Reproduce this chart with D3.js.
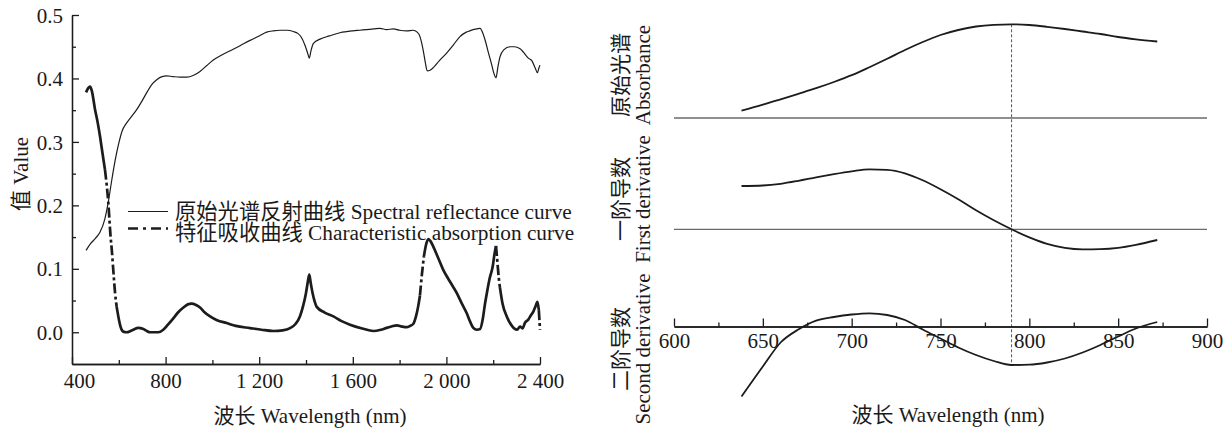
<!DOCTYPE html>
<html><head><meta charset="utf-8">
<script src="https://cdn.jsdelivr.net/npm/d3@7"></script>
<style>
body{margin:0;background:#fff}
svg{display:block}
svg text{font-family:"Liberation Serif","Noto Sans CJK SC",serif !important;fill:#1a1a1a}
</style>
</head><body>
<svg id="c" width="1229" height="432"></svg>
<script>
// ---------- Left chart data ----------
const reflWl = [460,480,500,520,540,555,570,585,600,615,630,650,675,700,720,740,762,785,805,830,862,890,920,947,975,1004,1040,1089,1120,1161,1200,1232,1260,1289,1320,1346,1365,1380,1396,1407,1414,1421,1431,1460,1500,1545,1600,1630,1659,1690,1716,1745,1773,1800,1830,1858,1875,1887,1895,1903,1910,1918,1930,1944,1970,2001,2030,2058,2085,2100,2115,2130,2144,2155,2165,2180,2194,2203,2212,2220,2229,2245,2272,2290,2315,2330,2350,2365,2380,2389,2395,2400];
const reflVal = [0.129,0.140,0.148,0.158,0.178,0.205,0.240,0.272,0.298,0.318,0.328,0.338,0.350,0.365,0.378,0.390,0.398,0.403,0.404,0.403,0.402,0.402,0.405,0.411,0.420,0.429,0.437,0.446,0.452,0.460,0.467,0.473,0.475,0.476,0.476,0.474,0.471,0.465,0.452,0.440,0.432,0.443,0.455,0.462,0.467,0.472,0.475,0.476,0.477,0.478,0.479,0.477,0.478,0.476,0.475,0.476,0.473,0.466,0.455,0.440,0.425,0.412,0.413,0.417,0.428,0.440,0.453,0.466,0.473,0.475,0.477,0.478,0.479,0.472,0.461,0.440,0.421,0.408,0.401,0.418,0.434,0.445,0.450,0.450,0.447,0.441,0.432,0.428,0.416,0.409,0.416,0.421];

const absWl = [460,470,477,485,498,510,520,530,541,555,565,570,578,584,591,598,608,619,634,650,662,683,705,720,733,769,790,810,833,855,876,895,911,930,947,965,990,1020,1061,1100,1161,1210,1261,1300,1332,1355,1374,1388,1400,1408,1414,1420,1428,1436,1446,1480,1517,1550,1588,1640,1688,1720,1745,1765,1788,1810,1830,1845,1858,1870,1880,1887,1895,1904,1913,1923,1933,1944,1965,1987,2015,2044,2065,2087,2100,2115,2130,2144,2155,2165,2173,2185,2198,2205,2212,2218,2224,2229,2240,2258,2280,2301,2315,2325,2336,2350,2360,2372,2380,2389,2395,2400];
const absVal = [0.378,0.385,0.387,0.380,0.352,0.330,0.308,0.283,0.256,0.205,0.150,0.130,0.090,0.062,0.040,0.025,0.008,0.001,0.000,0.002,0.004,0.007,0.005,0.002,0.000,0.000,0.004,0.012,0.022,0.032,0.039,0.044,0.045,0.043,0.039,0.032,0.025,0.019,0.0145,0.010,0.0066,0.004,0.002,0.003,0.0066,0.013,0.025,0.042,0.062,0.080,0.091,0.078,0.062,0.050,0.040,0.031,0.025,0.018,0.012,0.006,0.002,0.004,0.007,0.009,0.011,0.009,0.008,0.010,0.013,0.025,0.042,0.058,0.090,0.120,0.138,0.147,0.143,0.135,0.117,0.098,0.080,0.062,0.046,0.030,0.018,0.007,0.004,0.005,0.020,0.045,0.062,0.085,0.104,0.122,0.136,0.110,0.085,0.070,0.045,0.025,0.010,0.004,0.009,0.006,0.015,0.020,0.026,0.033,0.040,0.048,0.035,0.004];

const xTicksL = [400,800,1200,1600,2000,2400];
const xMinorL = [600,1000,1400,1800,2200];
const yTicksL = [0,0.1,0.2,0.3,0.4,0.5];
const yMinorL = [0.05,0.15,0.25,0.35,0.45];
const legendLabels = ["原始光谱反射曲线 Spectral reflectance curve","特征吸收曲线 Characteristic absorption curve"];
const xTitle = "波长 Wavelength (nm)";
const yTitleL = "值 Value";

// ---------- Right chart data ----------
const derivWl = [638,650,660,670,680,690,700,710,720,730,740,750,760,770,780,790,800,810,820,830,840,850,860,872];
const absorbance = [0.073,0.133,0.187,0.242,0.298,0.360,0.428,0.508,0.592,0.680,0.760,0.830,0.880,0.915,0.932,0.937,0.930,0.912,0.890,0.865,0.840,0.810,0.787,0.765];
const firstDeriv = [0.433,0.438,0.455,0.485,0.520,0.552,0.580,0.600,0.595,0.560,0.490,0.400,0.300,0.190,0.090,0.000,-0.080,-0.145,-0.185,-0.200,-0.198,-0.185,-0.155,-0.107];
const secondDeriv = [-0.700,-0.400,-0.160,-0.030,0.058,0.095,0.120,0.132,0.115,0.065,-0.030,-0.120,-0.210,-0.285,-0.345,-0.385,-0.382,-0.360,-0.320,-0.260,-0.185,-0.100,-0.020,0.045];
const xTicksR = [600,650,700,750,800,850,900];
const xMinorR = [625,675,725,775,825,875];
const panelLabelsCn = ["原始光谱","一阶导数","二阶导数"];
const panelLabelsEn = ["Absorbance","First derivative","Second derivative"];
const markWl = 790;

// ---------- Drawing ----------
const svg = d3.select("#c");
const ink = "#1c1c1c";
const fs = 21;
const FF = '"Liberation Serif","Noto Sans CJK SC",serif';

const xL = d3.scaleLinear().domain([400,2400]).range([72,540]);
const yL = d3.scaleLinear().domain([-0.05,0.5]).range([364,15]);
const loc = d3.formatLocale({decimal:".",thousands:" ",grouping:[3],currency:["",""]});
const fmtX = loc.format(",");

// x axis left
const gxL = svg.append("g").attr("transform","translate(0,364)");
gxL.call(d3.axisBottom(xL).tickValues(xTicksL).tickSize(-7).tickSizeOuter(0).tickFormat(fmtX));
gxL.append("g").call(d3.axisBottom(xL).tickValues(xMinorL).tickSize(-4).tickSizeOuter(0).tickFormat(""));
gxL.selectAll("text").attr("y",24).attr("dy",null).style("font-size",fs+"px").attr("fill",ink)
   .attr("dx",(d)=> d===400 ? 7 : 0);

// y axis left
const gyL = svg.append("g").attr("transform","translate(72,0)");
gyL.call(d3.axisLeft(yL).tickValues(yTicksL).tickSize(-7).tickSizeOuter(0).tickFormat(d3.format(".1f")));
gyL.append("g").call(d3.axisLeft(yL).tickValues(yMinorL).tickSize(-4).tickSizeOuter(0).tickFormat(""));
gyL.selectAll("text").attr("x",-9).attr("dy","0.34em").style("font-size",fs+"px").attr("fill",ink);

svg.selectAll(".domain").attr("stroke",ink).attr("stroke-width",1.3);
svg.selectAll(".tick line").attr("stroke",ink).attr("stroke-width",1.3);

// thin reflectance curve
const lineRefl = d3.line().x((d,i)=>xL(reflWl[i])).y(d=>yL(d)).curve(d3.curveMonotoneX);
svg.append("path").datum(reflVal).attr("d",lineRefl).attr("fill","none").attr("stroke",ink).attr("stroke-width",1.2);

// thick absorption curve: dash pattern visible on steep parts
const idx = absWl.map((d,i)=>i);
const runs = [];
let cur = null;
for (let i=0;i<idx.length-1;i++){
  const dx = xL(absWl[i+1])-xL(absWl[i]);
  const dy = yL(absVal[i+1])-yL(absVal[i]);
  const steep = Math.abs(dy) > 8*Math.abs(dx);
  if (!cur || cur.steep!==steep){ if(cur) runs.push(cur); cur={steep, ids:[i]}; }
  cur.ids.push(i+1);
}
runs.push(cur);
const lineAbs = d3.line().x(i=>xL(absWl[i])).y(i=>yL(absVal[i])).curve(d3.curveMonotoneX);
runs.forEach(r=>{
  svg.append("path").datum(r.ids).attr("d",lineAbs).attr("fill","none").attr("stroke",ink)
    .attr("stroke-width",2.7).attr("stroke-linejoin","round")
    .attr("stroke-dasharray", r.steep ? "10,3,3,3" : null);
});

// legend
const lg = svg.append("g");
lg.append("line").attr("x1",128).attr("x2",168).attr("y1",211.5).attr("y2",211.5).attr("stroke",ink).attr("stroke-width",1.2);
lg.append("line").attr("x1",128).attr("x2",168).attr("y1",228.5).attr("y2",228.5).attr("stroke",ink).attr("stroke-width",2.7).attr("stroke-dasharray","10,5,3,5");
lg.selectAll("text.lg").data(legendLabels).join("text").attr("class","lg")
  .attr("x",175).attr("y",(d,i)=>218.5+i*21).style("font-size","21.3px").text(d=>d);

// titles left
svg.append("text").attr("x",(xL(400)+xL(2400))/2+4).attr("y",422.5).attr("text-anchor","middle").style("font-size",fs+"px").text(xTitle);
svg.append("text").attr("transform","translate(28,174) rotate(-90)").attr("text-anchor","middle").style("font-size",fs+"px").text(yTitleL);

// ---------- Right chart ----------
const xR = d3.scaleLinear().domain([600,900]).range([674,1207]);
const axisY = 326.5;
const yTop = d3.scaleLinear().domain([0,1]).range([118,18]);
const yMid = d3.scaleLinear().domain([0,1]).range([229.3,129.3]);
const yBot = d3.scaleLinear().domain([0,1]).range([axisY,axisY-100]);

// baselines
[yTop, yMid].forEach(s=>{
  svg.append("line").attr("x1",xR(600)).attr("x2",xR(900)).attr("y1",s(0)).attr("y2",s(0))
    .attr("stroke","#6a6a6a").attr("stroke-width",1.3);
});

// dashed marker
const mi = derivWl.indexOf(markWl);
svg.append("line").attr("x1",xR(markWl)).attr("x2",xR(markWl))
  .attr("y1",yTop(absorbance[mi])).attr("y2",yBot(secondDeriv[mi]))
  .attr("stroke","#555").attr("stroke-width",1).attr("stroke-dasharray","3,2");

// x axis right
const gxR = svg.append("g").attr("transform",`translate(0,${axisY})`);
gxR.call(d3.axisBottom(xR).tickValues(xTicksR).tickSize(-8).tickSizeOuter(0).tickFormat(d3.format("d")));
gxR.append("g").call(d3.axisBottom(xR).tickValues(xMinorR).tickSize(-4).tickSizeOuter(0).tickFormat(""));
gxR.selectAll("text").attr("y",21.5).attr("dy",null).style("font-size",fs+"px").attr("fill",ink);
gxR.selectAll(".domain").attr("stroke",ink).attr("stroke-width",1.3);
gxR.selectAll(".tick line").attr("stroke",ink).attr("stroke-width",1.3);

// curves right
[[absorbance,yTop],[firstDeriv,yMid],[secondDeriv,yBot]].forEach(([vals,s])=>{
  const ln = d3.line().x((d,i)=>xR(derivWl[i])).y(d=>s(d)).curve(d3.curveMonotoneX);
  svg.append("path").datum(vals).attr("d",ln).attr("fill","none").attr("stroke",ink).attr("stroke-width",1.8);
});

// panel labels
const labelCy = [75,199,349];
panelLabelsCn.forEach((t,i)=>{
  svg.append("text").attr("transform",`translate(628,${labelCy[i]}) rotate(-90)`).attr("text-anchor","middle")
    .style("font-size",fs+"px").text(t);
  svg.append("text").attr("transform",`translate(650,${labelCy[i]}) rotate(-90)`).attr("text-anchor","middle")
    .style("font-size",fs+"px").text(panelLabelsEn[i]);
});

svg.append("text").attr("x",948).attr("y",422).attr("text-anchor","middle").style("font-size",fs+"px").text(xTitle);

svg.selectAll("text").style("font-family",FF);
</script>
</body></html>
